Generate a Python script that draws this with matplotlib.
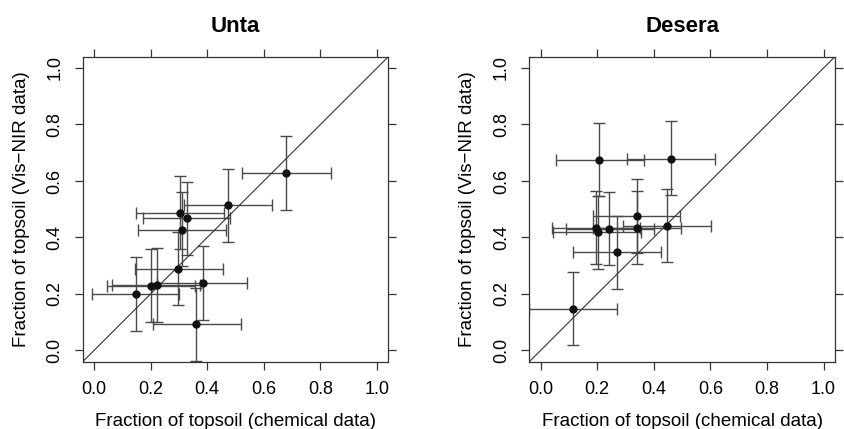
import numpy as np
import matplotlib.pyplot as plt

plt.rcParams['font.family'] = ['Liberation Sans', 'DejaVu Sans']

# Unta: chemical (x) vs Vis-NIR (y) fractions, with error ranges
unta_x = [0.679, 0.474, 0.302, 0.328, 0.311, 0.298, 0.384, 0.221, 0.200, 0.148, 0.362]
unta_y = [0.628, 0.514, 0.487, 0.468, 0.428, 0.288, 0.240, 0.233, 0.227, 0.199, 0.093]
unta_xlo = [0.522, 0.319, 0.148, 0.172, 0.155, 0.145, 0.221, 0.065, 0.045, -0.008, 0.207]
unta_xhi = [0.837, 0.629, 0.459, 0.482, 0.466, 0.454, 0.541, 0.374, 0.356, 0.301, 0.519]
unta_ylo = [0.498, 0.385, 0.360, 0.339, 0.298, 0.159, 0.109, 0.100, 0.100, 0.068, -0.038]
unta_yhi = [0.759, 0.644, 0.616, 0.598, 0.560, 0.418, 0.368, 0.362, 0.359, 0.329, 0.221]

# Desera
des_x = [0.115, 0.208, 0.460, 0.339, 0.341, 0.448, 0.242, 0.194, 0.201, 0.269]
des_y = [0.147, 0.674, 0.679, 0.475, 0.435, 0.441, 0.431, 0.435, 0.418, 0.347]
des_xlo = [-0.040, 0.053, 0.306, 0.184, 0.186, 0.292, 0.088, 0.039, 0.045, 0.114]
des_xhi = [0.271, 0.364, 0.616, 0.494, 0.496, 0.602, 0.399, 0.351, 0.356, 0.426]
des_ylo = [0.018, 0.548, 0.550, 0.345, 0.306, 0.312, 0.301, 0.305, 0.288, 0.216]
des_yhi = [0.278, 0.805, 0.812, 0.606, 0.565, 0.572, 0.561, 0.565, 0.547, 0.476]

ticks = [0.0, 0.2, 0.4, 0.6, 0.8, 1.0]
tick_labels = ["0.0", "0.2", "0.4", "0.6", "0.8", "1.0"]

fig = plt.figure(figsize=(8.45, 4.29), dpi=100)
ax1 = fig.add_axes([0.0979, 0.1569, 0.3617, 0.711])
ax2 = fig.add_axes([0.6264, 0.1569, 0.3617, 0.711])

panels = [
    (ax1, "Unta", unta_x, unta_y, unta_xlo, unta_xhi, unta_ylo, unta_yhi),
    (ax2, "Desera", des_x, des_y, des_xlo, des_xhi, des_ylo, des_yhi),
]

for ax, title, x, y, xlo, xhi, ylo, yhi in panels:
    x = np.array(x)
    y = np.array(y)
    xerr = [x - np.array(xlo), np.array(xhi) - x]
    yerr = [y - np.array(ylo), np.array(yhi) - y]
    ax.errorbar(x, y, xerr=xerr, yerr=yerr, fmt='o', color='#111111',
                ecolor='#4a4a4a', elinewidth=1.0, capsize=4, capthick=1.0,
                markersize=5, clip_on=True)
    ax.axline((0, 0), slope=1, color='#333333', lw=0.8)
    ax.set_xlim(-0.04, 1.04)
    ax.set_ylim(-0.04, 1.04)
    ax.set_xticks(ticks)
    ax.set_xticklabels(tick_labels)
    ax.set_yticks(ticks)
    ax.set_yticklabels(tick_labels, rotation=90, va='center')
    ax.tick_params(top=True, right=True, direction='out', length=6,
                   width=0.9, color='#333333', labelsize=13, pad=8)
    for s in ax.spines.values():
        s.set_linewidth(0.9)
        s.set_color('#333333')
    ax.set_title(title, fontsize=16, fontweight='bold', pad=18)
    ax.set_xlabel("Fraction of topsoil (chemical data)", fontsize=13.5, labelpad=11)
    ax.set_ylabel("Fraction of topsoil (Vis\u2212NIR data)", fontsize=13.5, labelpad=12)

fig.savefig("out.png", dpi=100)
